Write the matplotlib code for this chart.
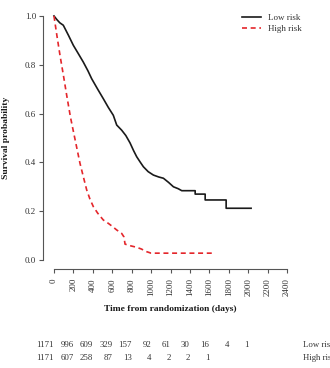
import matplotlib
matplotlib.use('Agg')
import matplotlib.pyplot as plt
import matplotlib.transforms as mtransforms

plt.rcParams['font.family'] = ['Liberation Serif', 'DejaVu Serif']

# Kaplan-Meier curves (days, survival)
low_t = [0, 30, 60, 96, 150, 199, 250, 302, 350, 388, 450, 508, 560, 611, 646, 697,
         740, 783, 820, 852, 890, 921, 970, 1024, 1080, 1127, 1180, 1230, 1280, 1316,
         1454, 1454, 1557, 1557, 1773, 1773, 2030]
low_s = [1.0, 0.985, 0.972, 0.962, 0.920, 0.880, 0.846, 0.811, 0.775, 0.743, 0.700, 0.661,
         0.625, 0.593, 0.553, 0.532, 0.510, 0.480, 0.448, 0.423, 0.400, 0.382, 0.362, 0.348,
         0.340, 0.335, 0.318, 0.300, 0.292, 0.284,
         0.284, 0.270, 0.270, 0.246, 0.246, 0.212, 0.212]

high_t = [0, 30, 62, 100, 131, 170, 216, 268, 300, 337, 370, 405, 450, 508, 560, 600,
          646, 697, 720, 732, 790, 852, 900, 955, 1000, 1626]
high_s = [1.0, 0.920, 0.839, 0.750, 0.675, 0.585, 0.496, 0.396, 0.345, 0.287, 0.250,
          0.219, 0.192, 0.164, 0.150, 0.138, 0.123, 0.109, 0.095, 0.065, 0.058, 0.052,
          0.045, 0.034, 0.028, 0.028]

# number at risk table
risk_days = [0, 200, 400, 600, 800, 1000, 1200, 1400, 1600, 1800, 2000]
low_at_risk = [1171, 996, 609, 329, 157, 92, 61, 30, 16, 4, 1]
high_at_risk = [1171, 607, 258, 87, 13, 4, 2, 2, 1]

xticks = list(range(0, 2401, 200))
yticks = [0.0, 0.2, 0.4, 0.6, 0.8, 1.0]

W, H = 330, 368
fig = plt.figure(figsize=(W / 100, H / 100), dpi=100)
ax = fig.add_axes([43 / W, 1 - 269 / H, 255 / W, 262.8 / H])

ax.plot(low_t, low_s, color='#1a1a1a', lw=1.2, label='Low risk')
ax.plot(high_t, high_s, color='#e4262b', lw=1.2, linestyle=(0, (3, 2.2)), label='High risk')

ax.set_xlim(-113, 2513)
ax.set_ylim(-0.0369, 1.04)

for side in ['top', 'right']:
    ax.spines[side].set_visible(False)
ax.spines['left'].set_bounds(0, 1)
ax.spines['bottom'].set_bounds(0, 2400)
for side in ['left', 'bottom']:
    ax.spines[side].set_color('#555555')
    ax.spines[side].set_linewidth(0.8)

ax.set_xticks(xticks)
ax.set_xticklabels([str(t) for t in xticks], rotation=90)
ax.set_yticks(yticks)
ax.set_yticklabels(['%.1f' % v for v in yticks])
ax.tick_params(axis='both', direction='out', length=3, width=0.8, color='#555555',
               labelsize=6.5, labelcolor='#333333')
ax.tick_params(axis='x', pad=3.5)
ax.tick_params(axis='y', pad=2)

fig.text(170 / W, 1 - 309 / H, 'Time from randomization (days)', ha='center', va='center',
         fontsize=6.8, fontweight='bold', color='#1a1a1a')
fig.text(6 / W, 1 - 138 / H, 'Survival probability', ha='center', va='center',
         rotation=90, fontsize=6.8, fontweight='bold', color='#1a1a1a')

leg = ax.legend(loc='upper left', bbox_to_anchor=(242 / W, 1 - 13.5 / H),
                bbox_transform=fig.transFigure, frameon=False, fontsize=6.5,
                handlelength=2.1, handletextpad=0.8, labelspacing=0.35,
                borderaxespad=0, borderpad=0)
for txt in leg.get_texts():
    txt.set_color('#333333')

trans = mtransforms.blended_transform_factory(ax.transData, fig.transFigure)
for d, n in zip(risk_days, low_at_risk):
    ax.text(d, 1 - 345 / H, str(n), transform=trans, ha='right', va='center',
            fontsize=6.3, color='#333333', clip_on=False)
for d, n in zip(risk_days, high_at_risk):
    ax.text(d, 1 - 358 / H, str(n), transform=trans, ha='right', va='center',
            fontsize=6.3, color='#333333', clip_on=False)
# row labels run off the right edge, as in the original
fig.text(303 / W, 1 - 345 / H, 'Low risk', ha='left', va='center', fontsize=6.3, color='#333333')
fig.text(303 / W, 1 - 358 / H, 'High risk', ha='left', va='center', fontsize=6.3, color='#333333')

fig.savefig('out.png', dpi=100)
